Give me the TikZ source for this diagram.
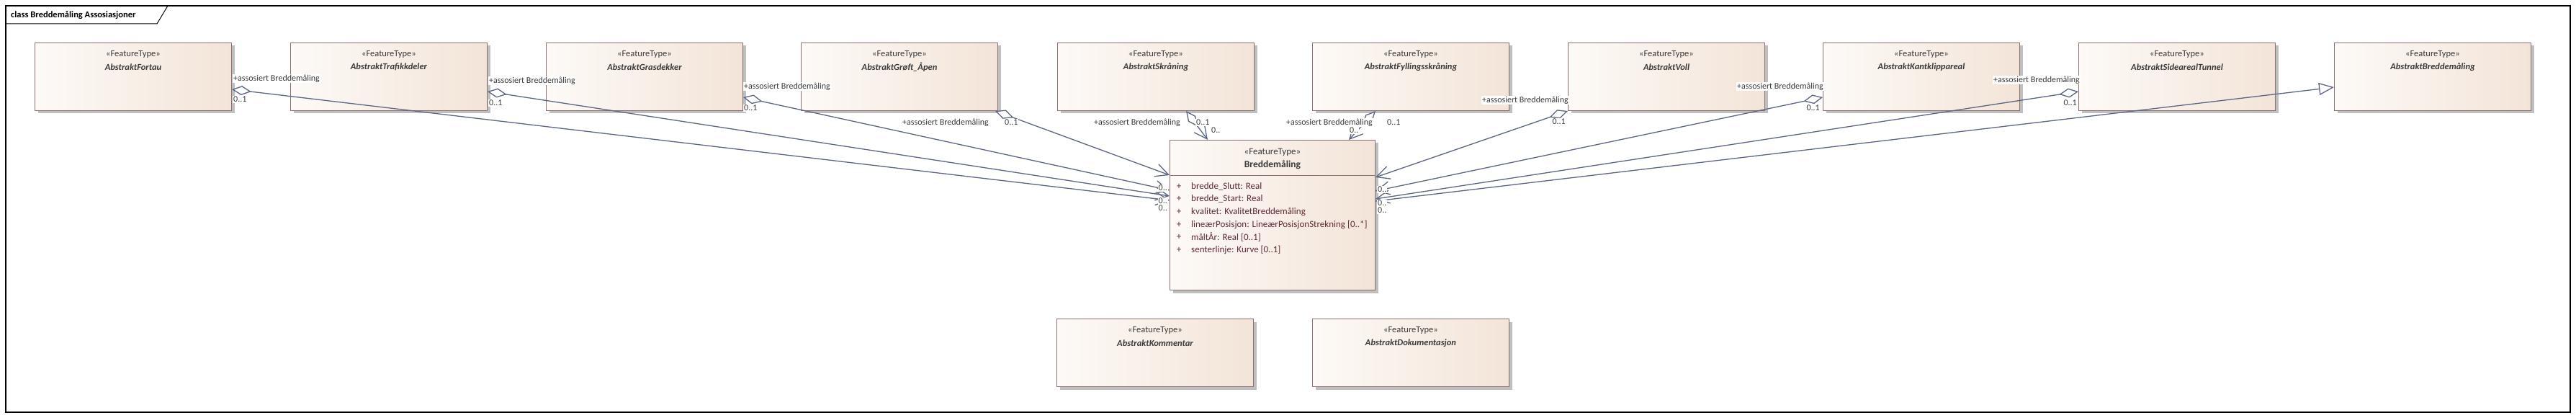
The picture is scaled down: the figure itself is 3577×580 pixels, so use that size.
\documentclass[tikz,border=0pt]{standalone}
\usepackage{fontspec}
\setmainfont{Carlito}
\usetikzlibrary{arrows.meta,shadows,calc}
\definecolor{boxL}{HTML}{FDFAF7}
\definecolor{boxR}{HTML}{F3E4D8}
\definecolor{boxB}{HTML}{8C7070}
\definecolor{lnC}{HTML}{5C6683}
\definecolor{txC}{HTML}{3A3A3A}
\definecolor{atC}{HTML}{5E2A36}
\begin{document}
\begin{tikzpicture}[x=1pt,y=-1pt,
  ftbox/.style={draw=boxB, line width=1pt, left color=boxL, right color=boxR,
    minimum width=273pt, minimum height=94pt, anchor=north west, inner sep=0pt,
    drop shadow={shadow xshift=4pt,shadow yshift=-4pt,fill=black!25,opacity=1}},
  stereo/.style={font=\fontsize{12.5}{14}\selectfont, text=txC, inner sep=0pt},
  cname/.style={font=\fontsize{12.5}{14}\selectfont\bfseries\itshape, text=txC, inner sep=0pt},
  assoc/.style={draw=lnC, line width=1.3pt,
    arrows={Diamond[length=27pt,width=13pt,fill=white]-Straight Barb[length=18pt,width=18pt]}},
  gen/.style={draw=lnC, line width=1.3pt,
    arrows={-Triangle[length=21pt,width=17pt,fill=white]}},
  lbl/.style={font=\fontsize{12}{14}\selectfont, text=txC, fill=white, inner sep=1pt},
  attr/.style={font=\fontsize{13}{15}\selectfont, text=atC, inner sep=0pt, anchor=west},
  plus/.style={font=\fontsize{13}{15}\selectfont, text=atC, inner sep=0pt}
]
\useasboundingbox (0,0) rectangle (3577,580);
\fill[white] (0,0) rectangle (3577,580);
% frame
\draw[line width=1.5pt] (8,8) rectangle (3569,572);
\draw[line width=1pt] (8,33) -- (218,33) -- (233,8);
\node[anchor=west, inner sep=0pt, font=\fontsize{12.5}{14}\selectfont\bfseries] (title) at (15,21) {class Breddemåling Assosiasjoner};

% top boxes
\foreach \i/\x/\n in {1/48/AbstraktFortau, 2/403/AbstraktTrafikkdeler, 3/758/AbstraktGrasdekker,
  4/1112/AbstraktGrøft\_Åpen, 5/1468/AbstraktSkråning, 6/1822/AbstraktFyllingsskråning,
  7/2177/AbstraktVoll, 8/2531/AbstraktKantklippareal, 9/2886/AbstraktSidearealTunnel,
  10/3241/AbstraktBreddemåling}{
  \node[ftbox] (b\i) at (\x,59) {};
  \node[stereo] (b\i s) at ([yshift=-16pt]b\i.north) {«FeatureType»};
  \node[cname] (b\i n) at ([yshift=-34pt]b\i.north) {\n};
}
% bottom boxes
\node[ftbox] (k) at (1467,442) {};
\node[stereo] (ks) at ([yshift=-16pt]k.north) {«FeatureType»};
\node[cname] (kn) at ([yshift=-34pt]k.north) {AbstraktKommentar};
\node[ftbox] (d) at (1822,442) {};
\node[stereo] (ds) at ([yshift=-16pt]d.north) {«FeatureType»};
\node[cname] (dn) at ([yshift=-34pt]d.north) {AbstraktDokumentasjon};

% central class
\node[ftbox, minimum width=285pt, minimum height=208pt] (C) at (1624,194) {};
\draw[boxB, line width=1pt] ([yshift=-50pt]C.north west) -- ([yshift=-50pt]C.north east);
\node[stereo, font=\fontsize{13}{15}\selectfont] (Cs) at ([yshift=-17pt]C.north) {«FeatureType»};
\node[stereo, font=\fontsize{13.5}{15}\selectfont\bfseries] (Cn) at ([yshift=-35pt]C.north) {Breddemåling};
\foreach \j/\y/\t in {1/259/{bredde\_Slutt: Real}, 2/276/{bredde\_Start: Real},
  3/294/{kvalitet: KvalitetBreddemåling}, 4/312/{lineærPosisjon: LineærPosisjonStrekning [0..*]},
  5/329/{måltÅr: Real [0..1]}, 6/347/{senterlinje: Kurve [0..1]}}{
  \node[plus] (p\j) at (1637,\y) {+};
  \node[attr] (a\j) at (1654,\y) {\t};
}

% associations
\draw[assoc] ([yshift=-65pt]b1.north east) -- ([yshift=-84pt]C.north west);
\draw[assoc] ([yshift=-68pt]b2.north east) -- ([yshift=-78pt]C.north west);
\draw[assoc] ([yshift=-76pt]b3.north east) -- ([yshift=-70pt]C.north west);
\draw[assoc] ([xshift=-4pt]b4.south east) -- ([yshift=-49pt]C.north west);
\draw[assoc] ([xshift=-95pt]b5.south east) -- ([xshift=53pt]C.north west);
\draw[assoc] ([xshift=88pt]b6.south west) -- ([xshift=-37pt]C.north east);
\draw[assoc] (b7.south west) -- ([yshift=-52pt]C.north east);
\draw[assoc] ([yshift=-76pt]b8.north west) -- ([yshift=-71pt]C.north east);
\draw[assoc] ([yshift=-68pt]b9.north west) -- ([yshift=-82pt]C.north east);
\draw[gen] ([yshift=-85pt]C.north east) -- ([yshift=-62pt]b10.north west);

% role labels
\node[lbl, anchor=west] (r1) at (323,109) {+assosiert Breddemåling};
\node[lbl, anchor=west] (r2) at (678,112) {+assosiert Breddemåling};
\node[lbl, anchor=west] (r3) at (1032,120) {+assosiert Breddemåling};
\node[lbl, anchor=east] (r4) at (1374,170) {+assosiert Breddemåling};
\node[lbl, anchor=east] (r5) at (1640,170) {+assosiert Breddemåling};
\node[lbl, anchor=east] (r6) at (1907,170) {+assosiert Breddemåling};
\node[lbl, anchor=east] (r7) at (2179,139) {+assosiert Breddemåling};
\node[lbl, anchor=east] (r8) at (2533,120) {+assosiert Breddemåling};
\node[lbl, anchor=east] (r9) at (2889,111) {+assosiert Breddemåling};

% source multiplicities
\node[lbl, anchor=west] (m1) at (323,138) {0..1};
\node[lbl, anchor=west] (m2) at (678,143) {0..1};
\node[lbl, anchor=west] (m3) at (1032,150) {0..1};
\node[lbl, anchor=west] (m4) at (1394,170) {0..1};
\node[lbl, anchor=west] (m5) at (1660,170) {0..1};
\node[lbl, anchor=west] (m6) at (1925,170) {0..1};
\node[lbl, anchor=east] (m7) at (2175,169) {0..1};
\node[lbl, anchor=east] (m8) at (2528,150) {0..1};
\node[lbl, anchor=east] (m9) at (2885,143) {0..1};

% target multiplicities
\node[lbl, anchor=west] (t5) at (1681,181) {0..};
\node[lbl, anchor=west] (t6) at (1873,181) {0..};
\node[lbl, anchor=east] (t3) at (1622,289) {0..};
\node[lbl, anchor=east] (t2) at (1622,279) {0..};
\node[lbl, anchor=east] (t1) at (1622,261) {0..};
\node[lbl, anchor=west] (t9) at (1912,292) {0..};
\node[lbl, anchor=west] (t8) at (1912,282) {0..};
\node[lbl, anchor=west] (t7) at (1912,263) {0..};
\end{tikzpicture}
\end{document}
